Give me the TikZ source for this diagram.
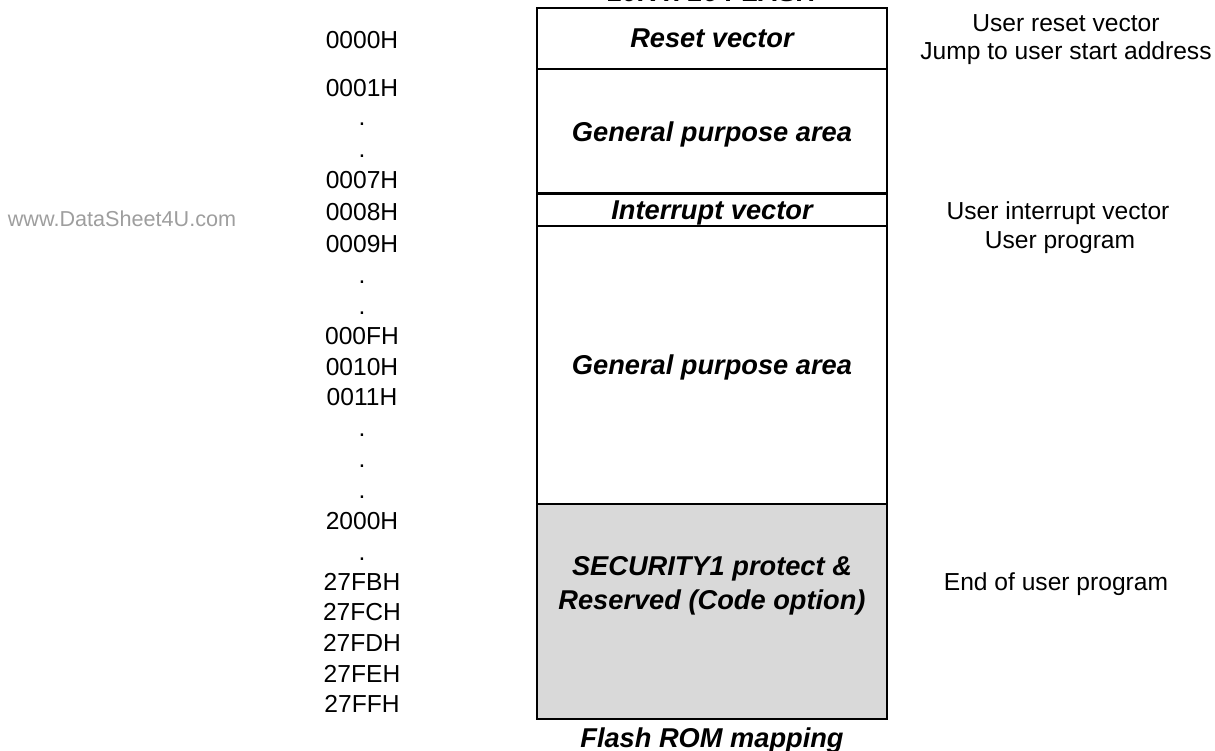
\documentclass[tikz,border=0pt]{standalone}
\usepackage{fontspec}
\setmainfont{Liberation Sans}
\usetikzlibrary{positioning}

\begin{document}
\begin{tikzpicture}[
  x=0.02cm, y=-0.02cm,
  font=\fontsize{14}{17}\selectfont,
  region/.style={draw, line width=1.2pt, minimum width=7cm, inner sep=0pt, outer sep=0pt, text depth=0pt, align=center, font=\fontsize{15.5}{18}\selectfont\bfseries\itshape},
  addr/.style={anchor=base, inner sep=0pt},
  note/.style={anchor=base, inner sep=0pt},
  caption/.style={anchor=base, inner sep=0pt, align=center, font=\fontsize{15.5}{18}\selectfont\bfseries\itshape}
]
\useasboundingbox (0,0) rectangle (1215,751);

% memory map column
\node[region, minimum height=1.22cm] (reset) at (712,38.5) {Reset vector};
\node[region, minimum height=2.49cm, below=0pt of reset] (gpa1) {General purpose area};
\node[region, minimum height=0.65cm, below=0pt of gpa1] (irq) {Interrupt vector};
\node[region, minimum height=5.56cm, below=0pt of irq] (gpa2) {General purpose area};
\node[region, minimum height=4.3cm, below=0pt of gpa2, fill=black!15] (secu) {};
\node[caption] (secutext) at (712,609) {SECURITY1 protect \&\\[1pt]Reserved (Code option)};

\node[caption] (title) at (712,1) {10K x 16 FLASH};
\node[caption] (mapcap) at (712,747) {Flash ROM mapping};

% addresses
\foreach \y/\t [count=\i] in {48/0000H, 96/0001H, 125/., 157/., 188/0007H, 220/0008H,
    252/0009H, 283/., 314/., 344/000FH, 375/0010H, 405/0011H, 436/., 467/., 498/.,
    529/2000H, 560/., 590/27FBH, 620/27FCH, 651/27FDH, 682/27FEH, 712/27FFH}
  \node[addr] (addr\i) at (362,\y) {\t};

% comments on the right
\node[note] (n1) at (1066,31) {User reset vector};
\node[note] (n2) at (1066,59) {Jump to user start address};
\node[note] (n3) at (1058,219) {User interrupt vector};
\node[note] (n4) at (1060,248) {User program};
\node[note] (n5) at (1056,590) {End of user program};

\node[note, text=black!38, font=\fontsize{12.3}{14}\selectfont] (mark) at (122,226) {www.DataSheet4U.com};
\end{tikzpicture}
\end{document}
